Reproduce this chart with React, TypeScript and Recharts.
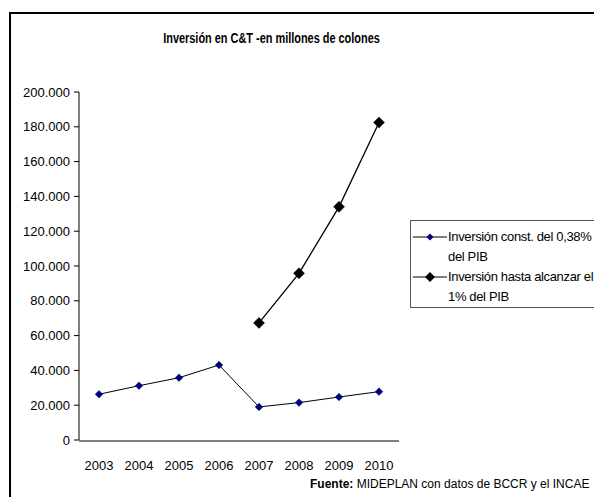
import React from "react";
import { LineChart, Line, XAxis, YAxis, Legend } from "recharts";

const years = ["2003", "2004", "2005", "2006", "2007", "2008", "2009", "2010"];
const constante = [26300, 31200, 35800, 43100, 19000, 21500, 24700, 27800];
const hastaUno = [null, null, null, null, 67300, 95800, 134000, 182500];
const yTicks = [0, 20000, 40000, 60000, 80000, 100000, 120000, 140000, 160000, 180000, 200000];
// legend labels, split where the original wraps them
const legendLines = [
  ["Inversión const. del 0,38%", "del PIB"],
  ["Inversión hasta alcanzar el", "1% del PIB"],
];
const seriesNames = legendLines.map((l) => l.join(" "));

const data = years.map((year, i) => ({
  year,
  constante: constante[i],
  hasta: hastaUno[i],
}));

const boundaryTicks = years.map((_, i) => i).concat(years.length);

const FONT = "'Liberation Sans', Arial, sans-serif";

const fmt = (v: number) => (v === 0 ? "0" : v.toLocaleString("de-DE"));

function diamond(r: number, fill: string) {
  return (props: any) => {
    const { cx, cy, index } = props;
    if (cx == null || cy == null || props.value == null) return <g key={index} />;
    return (
      <polygon
        key={index}
        points={`${cx},${cy - r} ${cx + r},${cy} ${cx},${cy + r} ${cx - r},${cy}`}
        fill={fill}
        stroke={fill}
        strokeWidth={0.5}
      />
    );
  };
}

function LegendBox() {
  const items = [
    { lines: legendLines[0], r: 3.5, fill: "#000080" },
    { lines: legendLines[1], r: 5, fill: "#000000" },
  ];
  return (
    <div
      style={{
        border: "1px solid #555",
        padding: "6px 0 0 2px",
        width: 260,
        background: "#fff",
        fontFamily: FONT,
        fontSize: 13,
        letterSpacing: "-0.35px",
        lineHeight: "20px",
        color: "#000",
      }}
    >
      {items.map((it) => (
        <div key={it.lines[0]} style={{ display: "flex", alignItems: "flex-start" }}>
          <svg width={34} height={20} style={{ flex: "none", marginRight: 1 }}>
            <line x1={0} y1={10} x2={34} y2={10} stroke="#000" strokeWidth={1} />
            <polygon
              points={`17,${10 - it.r} ${17 + it.r},10 17,${10 + it.r} ${17 - it.r},10`}
              fill={it.fill}
            />
          </svg>
          <div style={{ whiteSpace: "nowrap" }}>
            {it.lines.map((ln) => (
              <div key={ln}>{ln}</div>
            ))}
          </div>
        </div>
      ))}
    </div>
  );
}

export default function App() {
  return (
    <div
      style={{
        position: "absolute",
        left: 0,
        top: 0,
        width: 594,
        height: 497,
        overflow: "hidden",
        background: "#fff",
        fontFamily: FONT,
      }}
    >
      <div
        style={{
          position: "absolute",
          left: 9,
          top: 12,
          width: 700,
          height: 600,
          border: "2px solid #000",
        }}
      />
      <div
        style={{
          position: "absolute",
          left: 0,
          width: 543,
          top: 30,
          textAlign: "center",
          fontWeight: "bold",
          fontSize: 14,
          transform: "scaleX(0.78)",
          transformOrigin: "271.5px 0",
          whiteSpace: "nowrap",
        }}
      >
        Inversión en C&amp;T -en millones de colones
      </div>
      <div style={{ position: "absolute", left: 0, top: 0 }}>
        <LineChart
          width={594}
          height={497}
          data={data}
          margin={{ top: 92, right: 195, bottom: 55, left: 19 }}
        >
          <XAxis
            xAxisId="frame"
            type="number"
            domain={[0, years.length]}
            ticks={boundaryTicks}
            allowDataOverflow
            tick={false}
            tickSize={5}
            height={1}
            axisLine={{ stroke: "#000" }}
            tickLine={{ stroke: "#000" }}
          />
          <XAxis
            xAxisId="cat"
            dataKey="year"
            scale="band"
            height={1}
            axisLine={false}
            tickLine={false}
            tickSize={0}
            tickMargin={21}
            interval={0}
            tick={{ fill: "#000", fontSize: 13, fontFamily: FONT }}
          />
          <YAxis
            domain={[0, 200000]}
            ticks={yTicks}
            width={60}
            interval={0}
            tickSize={5}
            tickMargin={4}
            tickFormatter={fmt}
            axisLine={{ stroke: "#000" }}
            tickLine={{ stroke: "#000" }}
            tick={{ fill: "#000", fontSize: 13, fontFamily: FONT }}
          />
          <Legend
            layout="vertical"
            align="center"
            verticalAlign="middle"
            wrapperStyle={{ left: 410, top: 220, width: 260 }}
            content={() => <LegendBox />}
          />
          <Line
            xAxisId="cat"
            dataKey="constante"
            name={seriesNames[0]}
            stroke="#000"
            strokeWidth={1}
            dot={diamond(3.8, "#000080")}
            activeDot={false}
            isAnimationActive={false}
          />
          <Line
            xAxisId="cat"
            dataKey="hasta"
            name={seriesNames[1]}
            stroke="#000"
            strokeWidth={1.3}
            dot={diamond(5.5, "#000")}
            activeDot={false}
            isAnimationActive={false}
          />
        </LineChart>
      </div>
      <div
        style={{
          position: "absolute",
          left: 310,
          top: 477,
          fontSize: 12,
          whiteSpace: "nowrap",
          color: "#000",
        }}
      >
        <b>Fuente:</b> MIDEPLAN con datos de BCCR y el INCAE
      </div>
    </div>
  );
}
